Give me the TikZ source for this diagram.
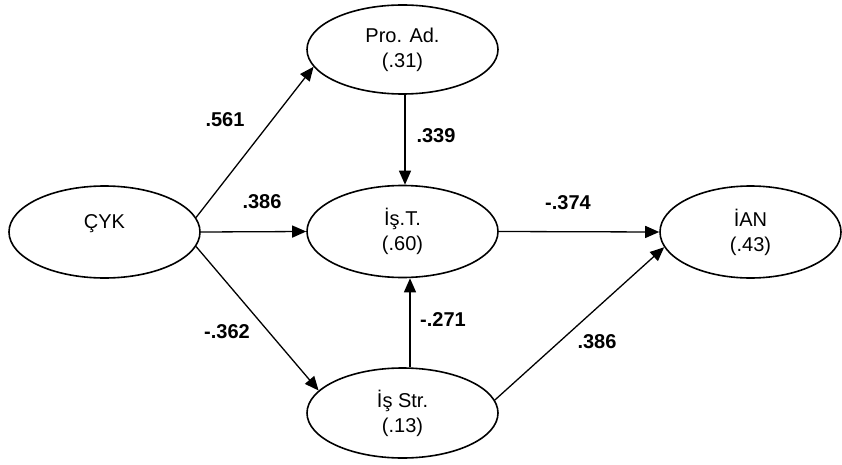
\documentclass[tikz,border=0pt]{standalone}
\usepackage{fontspec}
\setmainfont{Liberation Sans}
\usetikzlibrary{shapes.geometric,arrows.meta}
\begin{document}
\begin{tikzpicture}[x=1pt,y=-1pt,
  var/.style={ellipse,draw,line width=1.6pt,inner sep=0pt,minimum width=191pt,minimum height=90pt,align=center,font=\fontsize{20}{25}\selectfont},
  path/.style={line width=1.3pt,-{Triangle[length=14pt,width=12pt]}},
  coef/.style={font=\fontsize{20}{24}\selectfont\bfseries}]
\useasboundingbox (0,0) rectangle (842,465);
\node[var,minimum height=92pt] (cyk) at (104.5,232) {ÇYK\\[-8pt]\phantom{(}};
\node[var,minimum height=89pt] (proad) at (402.5,49.5) {Pro. Ad.\\(.31)};
\node[var,minimum height=92pt] (ist) at (402.5,231.5) {İş.T.\\(.60)};
\node[var,minimum width=181pt,minimum height=92pt] (ian) at (750.5,232) {İAN\\(.43)};
\node[var] (isstr) at (402.5,413) {İş Str.\\(.13)};
\draw[path] (cyk.9) -- (proad.191);
\draw[path] (cyk.east) -- (ist.west);
\draw[path] (cyk.-9) -- (isstr.165);
\draw[path] ([xshift=2.5pt]proad.south) -- ([xshift=2.5pt]proad.south |- ist.north);
\draw[path] ([xshift=7.5pt]isstr.north) -- ([xshift=7.5pt]isstr.north |- ist.south);
\draw[path] (ist.east) -- (ian.west);
\draw[path] (isstr.8) -- (ian.190);
\node[coef] (c1) at (225,120) {.561};
\node[coef] (c2) at (262,202) {.386};
\node[coef] (c3) at (227,332) {-.362};
\node[coef] (c4) at (436,136) {.339};
\node[coef] (c5) at (568,203) {-.374};
\node[coef] (c6) at (443,320) {-.271};
\node[coef] (c7) at (597,342) {.386};
\end{tikzpicture}
\end{document}
